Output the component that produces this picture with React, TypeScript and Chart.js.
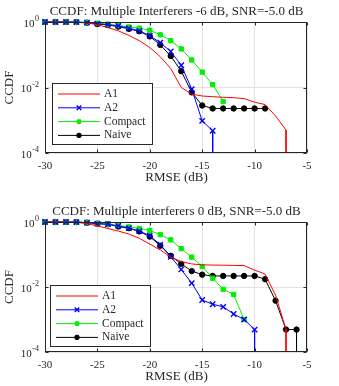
import React, { useEffect, useRef } from "react";
import { Chart, registerables } from "chart.js";
import { drawPoint } from "chart.js/helpers";

Chart.register(...registerables);

// ---------------- data ----------------
const xTicks = [-30, -25, -20, -15, -10, -5];
const yTicks = [1, 1e-2, 1e-4];
const seriesNames = ["A1", "A2", "Compact", "Naive"];
const ZERO = 1e-6; // CCDF reaches 0 (drawn as a drop below the axis)

// Top panel: Multiple Interferers -6 dB
const topTitle = "CCDF: Multiple Interferers -6 dB, SNR=-5.0 dB";
const topA1X = [-30, -29, -28, -27, -26, -25, -24, -23, -22, -21, -20, -19, -18, -17, -16, -15, -14, -13, -12, -11, -10, -9, -8, -7, -7];
const topA1Y = [1, 1, 0.989, 0.977, 0.933, 0.832, 0.676, 0.537, 0.389, 0.269, 0.166, 0.0871, 0.038, 0.01, 0.00631, 0.0055, 0.00525, 0.00501, 0.0049, 0.00457, 0.00355, 0.00302, 0.00135, 0.000501, ZERO];
const topA2X = [-30, -29, -28, -27, -26, -25, -24, -23, -22, -21, -20, -19, -18, -17, -16, -15, -14, -14];
const topA2Y = [1, 1, 1, 0.995, 0.955, 0.891, 0.832, 0.759, 0.646, 0.537, 0.38, 0.234, 0.126, 0.0479, 0.00891, 0.000955, 0.000479, ZERO];
const topCompactX = [-30, -29, -28, -27, -26, -25, -24, -23, -22, -21, -20, -19, -18, -17, -16, -15, -14, -13];
const topCompactY = [1, 1, 1, 0.995, 0.966, 0.912, 0.851, 0.776, 0.708, 0.646, 0.562, 0.407, 0.269, 0.151, 0.0692, 0.0295, 0.0123, 0.00372];
const topNaiveX = [-30, -29, -28, -27, -26, -25, -24, -23, -22, -21, -20, -19, -18, -17, -16, -15, -14, -13, -12, -11, -10, -9];
const topNaiveY = [1, 1, 1, 0.995, 0.955, 0.871, 0.813, 0.724, 0.617, 0.525, 0.363, 0.2, 0.0912, 0.0316, 0.00708, 0.00282, 0.00229, 0.00229, 0.00229, 0.00229, 0.00229, 0.00229];

// Bottom panel: Multiple interferers 0 dB
const botTitle = "CCDF: Multiple interferers 0 dB, SNR=-5.0 dB";
const botA1X = [-30, -29, -28, -27, -26, -25, -24, -23, -22, -21, -20, -19, -18, -17, -16, -15, -14, -13, -12, -11, -10, -9, -8, -7, -7];
const botA1Y = [1, 1, 0.989, 0.977, 0.891, 0.759, 0.631, 0.525, 0.427, 0.316, 0.209, 0.138, 0.0832, 0.0603, 0.0513, 0.0479, 0.0473, 0.0468, 0.0462, 0.0457, 0.0331, 0.0251, 0.00562, 0.00049, ZERO];
const botA2X = [-30, -29, -28, -27, -26, -25, -24, -23, -22, -21, -20, -19, -18, -17, -16, -15, -14, -13, -12, -11, -10, -10];
const botA2Y = [1, 1, 1, 0.995, 0.955, 0.891, 0.851, 0.759, 0.646, 0.525, 0.38, 0.2, 0.0851, 0.0347, 0.0132, 0.00398, 0.00295, 0.00245, 0.00148, 0.001, 0.00049, ZERO];
const botCompactX = [-30, -29, -28, -27, -26, -25, -24, -23, -22, -21, -20, -19, -18, -17, -16, -15, -14, -13, -12, -11];
const botCompactY = [1, 1, 1, 0.995, 0.966, 0.891, 0.851, 0.776, 0.708, 0.631, 0.55, 0.407, 0.282, 0.151, 0.0832, 0.0427, 0.0186, 0.00851, 0.00589, 0.001];
const botNaiveX = [-30, -29, -28, -27, -26, -25, -24, -23, -22, -21, -20, -19, -18, -17, -16, -15, -14, -13, -12, -11, -10, -9, -8, -7, -6, -6];
const botNaiveY = [1, 1, 1, 0.995, 0.955, 0.891, 0.851, 0.724, 0.646, 0.513, 0.355, 0.186, 0.0912, 0.0513, 0.0309, 0.024, 0.0219, 0.0219, 0.0219, 0.0219, 0.0219, 0.0174, 0.0038, 0.00049, 0.00049, ZERO];

// ---------------- style ----------------
const FONT = "'Liberation Serif', 'Times New Roman', serif";
const INK = "#262626";
const GRID = "#e3e3e3";
const W = 339;
const H = 193;
const XAXIS_H = 25;

const STYLES = [
  { color: "#ff0000", pointStyle: "circle", radius: 0, pbw: 1 },
  { color: "#0000ff", pointStyle: "crossRot", radius: 3.8, pbw: 1.4 },
  { color: "#00ee00", pointStyle: "rect", radius: 3.0, pbw: 1 },
  { color: "#000000", pointStyle: "circle", radius: 2.7, pbw: 1 },
];

const decorPlugin = {
  id: "decor",
  afterDraw(chart: any, _args: any, opts: any) {
    const { ctx, chartArea: a, scales } = chart;
    const xs = scales.x;
    const ys = scales.y;
    const L = Math.round(a.left) + 0.5;
    const R = Math.round(a.right) - 0.5;
    const T = Math.round(a.top) + 0.5;
    const B = Math.round(a.bottom) - 0.5;
    ctx.save();
    // inward ticks
    ctx.strokeStyle = INK;
    ctx.lineWidth = 1;
    ctx.beginPath();
    for (const t of xs.ticks) {
      const p = Math.round(xs.getPixelForValue(t.value)) + 0.5;
      ctx.moveTo(p, B);
      ctx.lineTo(p, B - 3);
      ctx.moveTo(p, T);
      ctx.lineTo(p, T + 3);
    }
    for (const t of ys.ticks) {
      const p = Math.round(ys.getPixelForValue(t.value)) + 0.5;
      ctx.moveTo(L, p);
      ctx.lineTo(L + 3, p);
      ctx.moveTo(R, p);
      ctx.lineTo(R - 3, p);
    }
    ctx.stroke();
    // box
    ctx.strokeRect(L, T, R - L, B - T);

    // y tick labels 10^k
    ctx.fillStyle = INK;
    ctx.textBaseline = "middle";
    for (const t of ys.ticks) {
      const p = ys.getPixelForValue(t.value);
      const e = String(Math.round(Math.log10(t.value)));
      ctx.font = `8px ${FONT}`;
      ctx.textAlign = "right";
      const ew = ctx.measureText(e).width;
      ctx.fillText(e, a.left - 6, p - 3);
      ctx.font = `11px ${FONT}`;
      ctx.fillText("10", a.left - 6 - ew - 0.5, p + 2);
    }

    // title
    ctx.textAlign = "center";
    ctx.font = `13px ${FONT}`;
    ctx.fillText(opts.title, (a.left + a.right) / 2 + 0.5, a.top - opts.titleGap);
    // x label
    ctx.fillText("RMSE (dB)", (a.left + a.right) / 2 + 0.5, a.bottom + 25);
    // y label
    ctx.save();
    ctx.translate(10, (a.top + a.bottom) / 2);
    ctx.rotate(-Math.PI / 2);
    ctx.fillText("CCDF", 0, 0);
    ctx.restore();

    // legend
    const lb = opts.legendBox;
    ctx.fillStyle = "#ffffff";
    ctx.fillRect(lb.x, lb.y, lb.w, lb.h);
    ctx.strokeStyle = INK;
    ctx.lineWidth = 1;
    ctx.strokeRect(lb.x + 0.5, lb.y + 0.5, lb.w - 1, lb.h - 1);
    chart.data.datasets.forEach((ds: any, i: number) => {
      const y = lb.y + 11 + i * 13.8;
      const x0 = lb.x + 6;
      const x1 = lb.x + 48;
      ctx.strokeStyle = ds.borderColor;
      ctx.lineWidth = 1;
      ctx.beginPath();
      ctx.moveTo(x0, y);
      ctx.lineTo(x1, y);
      ctx.stroke();
      if (ds.pointRadius > 0) {
        ctx.fillStyle = ds.borderColor;
        ctx.lineWidth = ds.pointBorderWidth;
        drawPoint(ctx, { pointStyle: ds.pointStyle, radius: ds.pointRadius * 0.85, rotation: 0, borderWidth: ds.pointBorderWidth }, (x0 + x1) / 2, y);
      }
      ctx.fillStyle = INK;
      ctx.textAlign = "left";
      ctx.font = `11.5px ${FONT}`;
      ctx.fillText(ds.label, lb.x + 52, y);
    });
    ctx.restore();
  },
};

function makeDatasets(xsList: number[][], ysList: number[][]) {
  return xsList.map((xs, i) => {
    const s = STYLES[i];
    return {
      label: seriesNames[i],
      data: xs.map((x, j) => ({ x, y: ysList[i][j] })),
      borderColor: s.color,
      backgroundColor: s.color,
      borderWidth: 1,
      pointStyle: s.pointStyle,
      pointRadius: s.radius,
      pointHoverRadius: s.radius,
      pointBorderWidth: s.pbw,
      pointBackgroundColor: s.color,
      pointBorderColor: s.color,
      tension: 0,
      clip: { left: 6, right: 6, top: 6, bottom: 0 },
    };
  });
}

function Panel(props: { xsList: number[][]; ysList: number[][]; title: string; areaTop: number; areaBottom: number; titleGap: number; legendBox: any }) {
  const ref = useRef<HTMLCanvasElement | null>(null);
  useEffect(() => {
    if (!ref.current) return;
    const chart = new Chart(ref.current, {
      type: "line",
      data: { datasets: makeDatasets(props.xsList, props.ysList) as any },
      options: {
        animation: false,
        responsive: false,
        maintainAspectRatio: false,
        events: [],
        layout: { padding: { left: 45, right: 32, top: props.areaTop, bottom: H - props.areaBottom - XAXIS_H } },
        plugins: {
          legend: { display: false },
          title: { display: false },
          tooltip: { enabled: false },
          decor: { title: props.title, titleGap: props.titleGap, legendBox: props.legendBox },
        } as any,
        scales: {
          x: {
            type: "linear",
            min: -30,
            max: -5,
            afterBuildTicks: (s: any) => {
              s.ticks = xTicks.map((v) => ({ value: v }));
            },
            afterFit: (s: any) => {
              s.height = XAXIS_H;
            },
            grid: { color: GRID, drawTicks: false, lineWidth: 1 },
            border: { display: false },
            ticks: { font: { family: FONT, size: 11 }, color: INK, padding: 7, maxRotation: 0, autoSkip: false },
          },
          y: {
            type: "logarithmic",
            min: 1e-4,
            max: 1,
            afterBuildTicks: (s: any) => {
              s.ticks = yTicks.map((v) => ({ value: v }));
            },
            afterFit: (s: any) => {
              s.width = 0;
            },
            grid: { color: GRID, drawTicks: false, lineWidth: 1 },
            border: { display: false },
            ticks: { display: false },
          },
        },
      },
      plugins: [decorPlugin],
    });
    return () => chart.destroy();
  }, []);
  return <canvas ref={ref} width={W} height={H} style={{ display: "block", width: W, height: H }} />;
}

export default function App() {
  return (
    <div style={{ position: "fixed", left: 0, top: 0, width: W, height: 2 * H, background: "#ffffff" }}>
      <Panel
        xsList={[topA1X, topA2X, topCompactX, topNaiveX]}
        ysList={[topA1Y, topA2Y, topCompactY, topNaiveY]}
        title={topTitle}
        areaTop={22}
        areaBottom={153}
        titleGap={10}
        legendBox={{ x: 52, y: 83, w: 101, h: 62 }}
      />
      <Panel
        xsList={[botA1X, botA2X, botCompactX, botNaiveX]}
        ysList={[botA1Y, botA2Y, botCompactY, botNaiveY]}
        title={botTitle}
        areaTop={29}
        areaBottom={159}
        titleGap={10.5}
        legendBox={{ x: 50, y: 92, w: 101, h: 62 }}
      />
    </div>
  );
}
